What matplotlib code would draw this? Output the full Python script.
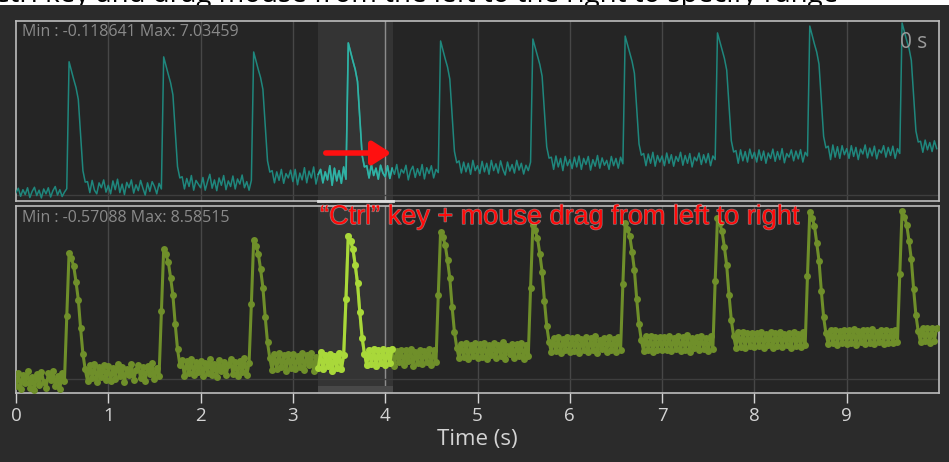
import numpy as np
import matplotlib
matplotlib.use('Agg')
import matplotlib.pyplot as plt
from matplotlib.patches import Rectangle, FancyArrowPatch
import matplotlib.patheffects as pe
import matplotlib.transforms as mtransforms

# sample spacing of both traces (s)
dt = 0.025

# upper trace, one row per second (40 samples each)
top_trace = [
    [0.1, 0.28, -0.05, 0.22, 0.02, 0.3, -0.1, 0.15, 0.32, -0.02, 0.2, -0.118641, 0.25, 0.05, 0.3, -0.08, 0.18, 0.35, 0.0, 0.22, -0.06, 0.12, 0.26,
     5.45, 5.09, 4.73, 4.40, 3.91, 2.48, 1.00, 0.53,
     0.55, 0.1, 0.6, 0.2, 0.05, 0.5, 0.3, 0.62, 0.12],
    [0.4, 0.05, 0.58, 0.22, 0.65, 0.1, 0.45, 0.02, 0.52, 0.3, 0.62, 0.08, 0.42, 0.18, 0.6, 0.28, 0.0, 0.5, 0.15, 0.55, 0.35, 0.05, 0.48, 0.25,
     5.65, 5.29, 4.93, 4.59, 4.10, 2.66, 1.16, 0.70,
     0.75, 0.25, 0.68, 0.35, 0.8, 0.2, 0.6, 0.45],
    [0.3, 0.72, 0.2, 0.55, 0.85, 0.28, 0.62, 0.18, 0.7, 0.4, 0.8, 0.22, 0.58, 0.35, 0.78, 0.25, 0.66, 0.45, 0.82, 0.3, 0.55, 0.2, 0.6,
     5.85, 5.49, 5.13, 4.80, 4.32, 2.89, 1.40, 0.94,
     1.0, 0.5, 0.95, 0.6, 1.05, 0.48, 0.88, 0.7, 1.02],
    [0.55, 1.05, 0.42, 0.9, 0.62, 1.12, 0.5, 0.98, 0.7, 1.15, 0.45, 0.85, 1.05, 0.5, 0.95, 0.62, 1.2, 0.4, 1.1, 0.58, 1.0, 0.48, 1.15, 0.65,
     6.22, 5.85, 5.48, 5.14, 4.64, 3.16, 1.63, 1.15,
     1.2, 0.7, 1.25, 0.8, 1.1, 0.65, 1.22, 0.9],
    [0.75, 1.2, 0.68, 1.1, 0.85, 1.25, 0.7, 1.05, 0.9, 1.22, 0.62, 1.0, 1.18, 0.72, 1.08, 0.8, 1.25, 0.66, 1.12, 0.88, 1.2, 0.7, 1.05, 0.92,
     6.30, 5.94, 5.57, 5.24, 4.74, 3.29, 1.79, 1.32,
     1.4, 0.9, 1.35, 0.95, 1.3, 0.85, 1.42, 1.0],
    [1.2, 0.88, 1.38, 0.95, 1.3, 0.85, 1.42, 1.0, 1.28, 0.9, 1.4, 1.05, 0.82, 1.35, 0.98, 1.25, 0.9, 1.42, 1.02, 1.3, 0.86, 1.22, 1.0, 1.35,
     6.38, 6.03, 5.67, 5.34, 4.86, 3.44, 1.97, 1.51,
     1.55, 1.05, 1.6, 1.15, 1.5, 1.0, 1.58, 1.2],
    [1.45, 1.08, 1.55, 1.15, 1.6, 1.05, 1.5, 1.25, 1.58, 1.02, 1.45, 1.18, 1.62, 1.1, 1.52, 1.22, 1.42, 1.05, 1.58, 1.2, 1.5, 1.1, 1.55, 1.28,
     6.50, 6.15, 5.79, 5.46, 4.98, 3.56, 2.09, 1.63,
     1.7, 1.2, 1.68, 1.3, 1.75, 1.18, 1.62, 1.35],
    [1.6, 1.2, 1.72, 1.3, 1.65, 1.18, 1.58, 1.38, 1.75, 1.22, 1.62, 1.3, 1.7, 1.15, 1.55, 1.4, 1.72, 1.25, 1.65, 1.32, 1.7, 1.2, 1.6, 1.45,
     6.63, 6.28, 5.92, 5.59, 5.11, 3.69, 2.22, 1.76,
     1.82, 1.3, 1.85, 1.4, 1.78, 1.35, 1.88, 1.5],
    [1.75, 1.35, 1.85, 1.42, 1.8, 1.3, 1.72, 1.5, 1.88, 1.38, 1.78, 1.45, 1.9, 1.32, 1.7, 1.55, 1.85, 1.4, 1.8, 1.48, 1.86, 1.35, 1.75, 1.6,
     6.91, 6.55, 6.18, 5.85, 5.35, 3.90, 2.40, 1.93,
     2.0, 1.45, 2.05, 1.55, 1.98, 1.5, 2.02, 1.65],
    [1.9, 1.5, 2.02, 1.58, 1.95, 1.45, 1.88, 1.68, 2.05, 1.52, 1.92, 1.6, 2.0, 1.48, 1.85, 1.72, 2.02, 1.55, 1.95, 1.62, 2.0, 1.5, 1.9, 1.7,
     7.03459, 6.68, 6.32, 6.00, 5.51, 4.09, 2.62, 2.17,
     2.2, 1.75, 2.25, 1.85, 2.15, 1.78, 2.22, 1.9],
]

# lower trace (with sample dots), one row per second
bottom_trace = [
    [-0.35, 0.3, -0.5, 0.2, -0.2, 0.38, -0.45, 0.1, -0.57088, 0.25, -0.3, 0.35, -0.15, -0.48, 0.28, -0.05, 0.4, -0.38, 0.15, -0.52, 0.32, -0.1,
     3.2, 6.45, 6.17, 5.77, 4.97, 4.05, 2.58, 1.28, 0.48,
     -0.1, 0.7, 0.05, 0.75, -0.15, 0.6, 0.1, 0.72, -0.05],
    [0.65, -0.12, 0.55, 0.0, 0.78, 0.12, 0.62, -0.15, 0.5, 0.2, 0.75, -0.05, 0.45, 0.7, 0.05, 0.6, -0.1, 0.68, 0.25, 0.8, 0.0, 0.55, 0.15,
     3.47, 6.64, 6.37, 5.97, 5.18, 4.27, 2.80, 1.52, 0.72,
     0.95, 0.15, 0.9, 0.3, 1.0, 0.2, 0.85, 0.35],
    [0.9, 0.15, 0.8, 0.3, 1.02, 0.22, 0.75, 0.1, 0.95, 0.4, 0.88, 0.18, 0.7, 1.0, 0.25, 0.85, 0.12, 0.92, 0.35, 1.05, 0.2, 0.8,
     3.83, 7.10, 6.82, 6.41, 5.60, 4.67, 3.17, 1.86, 1.05,
     0.45, 1.25, 0.5, 1.3, 0.6, 1.2, 0.4, 1.28, 0.55],
    [1.25, 0.48, 1.15, 0.6, 1.32, 0.45, 1.2, 0.7, 1.3, 0.42, 1.1, 0.55, 1.35, 0.5, 1.22, 0.65, 1.28, 0.4, 1.18, 0.58, 1.32, 0.5, 1.2,
     4.09, 7.32, 7.04, 6.64, 5.83, 4.89, 3.40, 2.10, 1.29,
     0.7, 1.5, 0.75, 1.55, 0.65, 1.45, 0.8, 1.52],
    [0.72, 1.48, 0.8, 1.55, 0.68, 1.4, 0.85, 1.5, 0.7, 1.45, 0.9, 1.55, 0.65, 1.38, 0.82, 1.5, 0.75, 1.42, 0.88, 1.55, 0.7, 1.45, 0.85,
     4.3, 7.53, 7.26, 6.86, 6.06, 5.15, 3.68, 2.40, 1.60,
     1.05, 1.8, 1.1, 1.85, 1.0, 1.75, 1.15, 1.82],
    [1.05, 1.78, 1.12, 1.85, 1.0, 1.72, 1.2, 1.82, 1.08, 1.75, 1.15, 1.88, 1.02, 1.7, 1.25, 1.8, 1.05, 1.78, 1.18, 1.85, 1.0, 1.72, 1.15,
     4.65, 7.87, 7.59, 7.19, 6.40, 5.48, 4.00, 2.71, 1.91,
     1.35, 2.1, 1.4, 2.12, 1.32, 2.05, 1.45, 2.15],
    [1.38, 2.1, 1.42, 2.15, 1.3, 2.02, 1.5, 2.12, 1.35, 2.08, 1.45, 2.18, 1.32, 2.0, 1.55, 2.1, 1.38, 2.12, 1.45, 2.05, 1.35, 2.15, 1.48,
     4.85, 7.97, 7.69, 7.29, 6.49, 5.56, 4.08, 2.79, 1.98,
     1.42, 2.18, 1.45, 2.2, 1.38, 2.12, 1.5, 2.15],
    [1.45, 2.15, 1.5, 2.2, 1.4, 2.1, 1.55, 2.18, 1.42, 2.12, 1.5, 2.22, 1.38, 2.08, 1.6, 2.15, 1.45, 2.2, 1.52, 2.1, 1.4, 2.18, 1.55,
     5.0, 8.23, 7.95, 7.54, 6.73, 5.80, 4.30, 2.99, 2.18,
     1.6, 2.38, 1.65, 2.4, 1.58, 2.32, 1.7, 2.35],
    [1.62, 2.35, 1.68, 2.4, 1.6, 2.3, 1.72, 2.38, 1.58, 2.32, 1.7, 2.42, 1.62, 2.28, 1.75, 2.35, 1.6, 2.4, 1.68, 2.3, 1.65, 2.38, 1.72,
     5.26, 8.53, 8.24, 7.83, 6.96, 6.04, 4.50, 3.16, 2.32,
     1.78, 2.5, 1.82, 2.52, 1.75, 2.45, 1.85, 2.5],
    [1.78, 2.5, 1.85, 2.55, 1.75, 2.45, 1.88, 2.52, 1.8, 2.48, 1.85, 2.55, 1.78, 2.42, 1.9, 2.5, 1.8, 2.52, 1.85, 2.45, 1.82, 2.5, 1.9,
     5.36, 8.58515, 8.30, 7.89, 7.06, 6.11, 4.59, 3.26, 2.43,
     1.88, 2.6, 1.92, 2.62, 1.85, 2.58, 1.95, 2.6],
]

x_ticks = [0, 1, 2, 3, 4, 5, 6, 7, 8, 9]
top_min, top_max = -0.118641, 7.03459
bot_min, bot_max = -0.57088, 8.58515
sel_start, sel_end = 3.27, 4.08   # selected time range
cursor_time = 4.0

# colours
fig_bg = '#2b2b2b'
ax_bg = '#252525'
band_bg = '#343434'
grid_col = '#474747'
frame_col = '#bdbdbd'
teal = '#1f877d'
teal_hi = '#30b2a5'
olive = '#6f8f2a'
olive_hi = '#a9d83a'

top_y = np.concatenate([np.array(r) for r in top_trace])
bot_y = np.concatenate([np.array(r) for r in bottom_trace])
top_t = np.arange(len(top_y)) * dt
bot_t = np.arange(len(bot_y)) * dt

W, H = 949, 462
fig = plt.figure(figsize=(W / 100, H / 100), dpi=100, facecolor='white')

# cut-off caption strip at the very top
fig.text(-8 / W, 1 - 2 / H, 'Ctrl key and drag mouse from the left to the right to specify range',
         fontsize=20, color='black', ha='left', va='baseline', family='Open Sans', zorder=-2)
fig.add_artist(Rectangle((0, 0), 1, (H - 5) / H, transform=fig.transFigure,
                         facecolor=fig_bg, edgecolor='none', zorder=-1))

ax1 = fig.add_axes([16 / W, (H - 201) / H, 923 / W, 180 / H])
ax2 = fig.add_axes([16 / W, (H - 393) / H, 923 / W, 187 / H])

for ax in (ax1, ax2):
    ax.set_facecolor(ax_bg)
    ax.set_xlim(0, 10)
    ax.axvspan(sel_start, sel_end, color=band_bg, zorder=0, lw=0)
    for xt in x_ticks[1:]:
        ax.axvline(xt, color=grid_col, lw=1, zorder=1)
    ax.axvline(cursor_time, color='#8c8c8c', lw=1, zorder=1)
    ax.axhline(0, color='#3e3e3e', lw=1, zorder=1)
    for s in ax.spines.values():
        s.set_color(frame_col)
        s.set_linewidth(1.2)
    ax.set_yticks([])

ax1.set_ylim(-0.242, 7.117)
ax2.set_ylim(-0.724, 8.841)

# upper trace
sel_top = (top_t >= sel_start) & (top_t <= sel_end)
ax1.plot(top_t, top_y, color=teal, lw=1.1, zorder=3)
ax1.plot(top_t[sel_top], top_y[sel_top], color=teal_hi, lw=1.2, zorder=4)

# lower trace with dots
sel_bot = (bot_t >= sel_start) & (bot_t <= sel_end)
ax2.plot(bot_t, bot_y, color=olive, lw=2.2, marker='o', ms=5, mec='none', zorder=3)
ax2.plot(bot_t[sel_bot], bot_y[sel_bot], color=olive_hi, lw=2.2, marker='o', ms=5, mec='none', zorder=4)

# selection markers on the panel edges
blend1 = mtransforms.blended_transform_factory(ax1.transData, ax1.transAxes)
ax1.plot([sel_start, sel_end], [0, 0], transform=blend1, color='#dedede', lw=2.0, clip_on=False, zorder=6)
blend2 = mtransforms.blended_transform_factory(ax2.transData, ax2.transAxes)
ax2.add_patch(Rectangle((sel_start, 0.005), sel_end - sel_start, 0.035, transform=blend2,
                        facecolor='#484848', edgecolor='none', zorder=2))

ax1.set_xticks([])
ax2.set_xticks(x_ticks)
ax2.tick_params(axis='x', colors='#d4d4d4', labelcolor='#d4d4d4', length=7, width=1,
                direction='out', pad=3, labelsize=13.5)
for lab in ax2.get_xticklabels():
    lab.set_family('Open Sans')
ax2.set_xlabel('Time (s)', color='#d4d4d4', fontsize=16, family='Open Sans', labelpad=3)

# min / max readouts
ax1.text(6 / 923, 1 - 11 / 180, f'Min : {top_min:g} Max: {top_max:g}', transform=ax1.transAxes,
         color='#8a8a8a', fontsize=11.5, family='Open Sans', va='center', ha='left', zorder=7)
ax2.text(6 / 923, 1 - 12 / 187, f'Min : {bot_min:g} Max: {bot_max:g}', transform=ax2.transAxes,
         color='#8a8a8a', fontsize=11.5, family='Open Sans', va='center', ha='left', zorder=7)
ax1.text(1 - 12 / 923, 1 - 21 / 180, '0 s', transform=ax1.transAxes, color='#9a9a9a',
         fontsize=15, family='Open Sans', va='center', ha='right', zorder=7)

# red annotation
fig.text(320 / W, 1 - 217 / H, '\u201cCtrl\u201d key + mouse drag from left to right', color='#ff0a0a',
         fontsize=19.5, family='Liberation Sans', ha='left', va='center', zorder=10,
         path_effects=[pe.withStroke(linewidth=1.0, foreground='#ffd6d6', alpha=0.45)])
fig.add_artist(FancyArrowPatch(
    (323 / W, 1 - 153 / H), (394 / W, 1 - 153 / H), transform=fig.transFigure,
    arrowstyle='-|>,head_length=11,head_width=7', mutation_scale=1, color='#ff1010',
    lw=4, zorder=10))

fig.savefig('out.png', dpi=100, facecolor=fig.get_facecolor())
